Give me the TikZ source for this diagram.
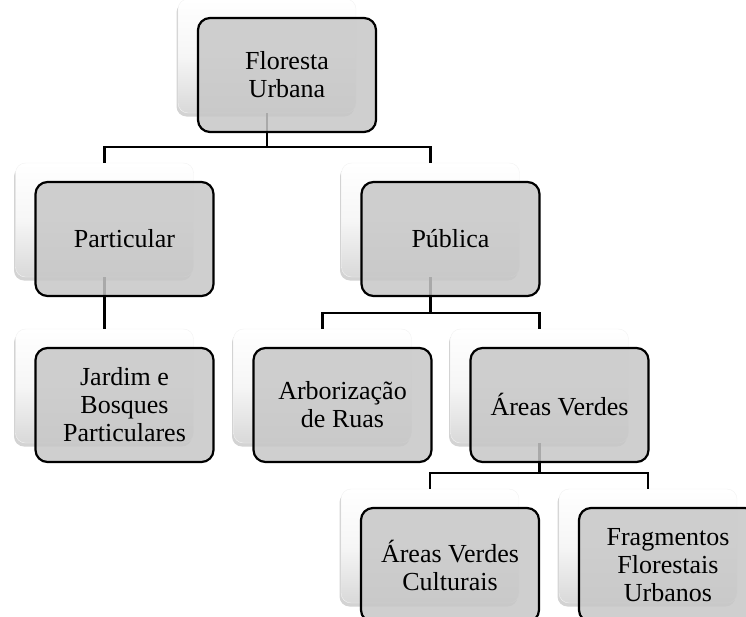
\documentclass[tikz,border=0pt]{standalone}
\usepackage{fontspec}
\setmainfont{Liberation Serif}
\usetikzlibrary{positioning, calc, shadows}

\begin{document}
\begin{tikzpicture}[x=1pt, y=-1pt,
    card/.style={rounded corners=10pt, minimum width=178pt, minimum height=114pt, inner sep=0pt,
      top color=white, bottom color=gray!30, middle color=white!93!gray, draw=gray!10,
      drop shadow={shadow xshift=-1.5pt, shadow yshift=-3.5pt, opacity=0.35, fill=gray}},
    box/.style={rounded corners=12pt, draw=black, line width=2.2pt, fill=gray!44, fill opacity=0.85,
      text opacity=1, minimum width=178pt, minimum height=114pt, inner sep=2pt, align=center,
      font=\fontsize{26}{28}\selectfont},
    link/.style={line width=2.2pt}]
  \useasboundingbox (0,0) rectangle (746,616);
  \clip (0,0) rectangle (746,616);
  %\draw[help lines] (0,0) grid[step=50] (746,616);

  % back cards
  \node[card] (flor-b) at (267,56) {};
  \node[card] (part-b) at (104.5,220) {};
  \node[card] (publ-b) at (430.5,220) {};
  \node[card] (jard-b) at (104.5,386) {};
  \node[card] (arbo-b) at (322.5,386) {};
  \node[card] (area-b) at (539.5,386) {};
  \node[card] (cult-b) at (430,546) {};
  \node[card] (frag-b) at (648,546) {};

  % connectors
  \draw[link] (flor-b.south) |- ([yshift=16pt]part-b.north) -- (part-b.north);
  \draw[link] (flor-b.south) |- ([yshift=16pt]publ-b.north) -- (publ-b.north);
  \draw[link] (part-b.south) -- (jard-b.north);
  \draw[link] (publ-b.south) |- ([yshift=16pt]arbo-b.north) -- (arbo-b.north);
  \draw[link] (publ-b.south) |- ([yshift=16pt]area-b.north) -- (area-b.north);
  \draw[link] (area-b.south) |- ([yshift=16pt]cult-b.north) -- (cult-b.north);
  \draw[link] (area-b.south) |- ([yshift=16pt]frag-b.north) -- (frag-b.north);

  % front boxes
  \node[box] (flor) at ([shift={(20pt,-19pt)}]flor-b.center) {Floresta\\Urbana};
  \node[box] (part) at ([shift={(20pt,-19pt)}]part-b.center) {Particular};
  \node[box] (publ) at ([shift={(20pt,-19pt)}]publ-b.center) {Pública};
  \node[box] (jard) at ([shift={(20pt,-19pt)}]jard-b.center) {Jardim e\\Bosques\\Particulares};
  \node[box] (arbo) at ([shift={(20pt,-19pt)}]arbo-b.center) {Arborização\\de Ruas};
  \node[box] (area) at ([shift={(20pt,-19pt)}]area-b.center) {Áreas Verdes};
  \node[box] (cult) at ([shift={(20pt,-19pt)}]cult-b.center) {Áreas Verdes\\Culturais};
  \node[box] (frag) at ([shift={(20pt,-19pt)}]frag-b.center) {Fragmentos\\Florestais\\Urbanos};
\end{tikzpicture}
\end{document}
